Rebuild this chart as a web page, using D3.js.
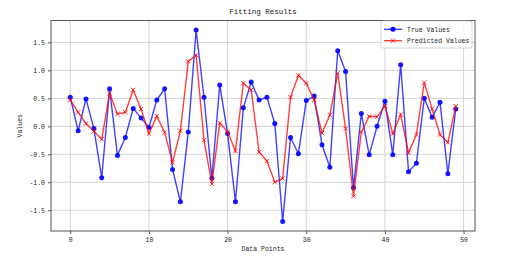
<!DOCTYPE html>
<html lang="en">
  <head>
    <meta charset="UTF-8" />
    <title>Fitting Results</title>
    <script src="https://d3js.org/d3.v7.min.js"></script>
    <style>
      body { margin: 0; background: #fff; }
      text { font-family: "Liberation Mono", "DejaVu Sans Mono", monospace; fill: #222; }
    </style>
  </head>

  <body>
    <svg width="510" height="259"></svg>

    <script>
      // values, index 0..49
      const trueValues = [
        0.52, -0.08, 0.49, -0.04, -0.92, 0.67, -0.52, -0.2, 0.32, 0.15,
        -0.02, 0.47, 0.67, -0.77, -1.35, -0.1, 1.72, 0.52, -0.93, 0.74,
        -0.13, -1.35, 0.33, 0.79, 0.47, 0.52, 0.05, -1.7, -0.2, -0.49,
        0.46, 0.54, -0.33, -0.73, 1.35, 0.98, -1.1, 0.23, -0.51, 0.0,
        0.45, -0.51, 1.1, -0.81, -0.66, 0.5, 0.16, 0.43, -0.85, 0.31
      ];
      const predictedValues = [
        0.47, 0.25, 0.05, -0.09, -0.23, 0.59, 0.22, 0.25, 0.65, 0.31,
        -0.13, 0.18, -0.11, -0.65, -0.08, 1.16, 1.27, -0.25, -1.03, 0.06,
        -0.1, -0.44, 0.77, 0.65, -0.46, -0.62, -1.0, -0.93, 0.52, 0.91,
        0.77, 0.47, -0.12, 0.2, 0.95, -0.04, -1.25, -0.1, 0.18, 0.17,
        0.36, -0.13, 0.21, -0.47, -0.15, 0.78, 0.31, -0.15, -0.29, 0.36
      ];
      const xTicks = [0, 10, 20, 30, 40, 50];
      const yTicks = [-1.5, -1.0, -0.5, 0.0, 0.5, 1.0, 1.5];
      const seriesNames = ["True Values", "Predicted Values"];

      const svg = d3.select("svg");
      const pLeft = 51, pRight = 475, pTop = 20.5, pBottom = 231;

      // matplotlib-style 5% margins
      const n = trueValues.length;
      const xPad = (n - 1) * 0.05;
      const all = trueValues.concat(predictedValues);
      const [lo, hi] = d3.extent(all);
      const yPad = (hi - lo) * 0.05;

      const x = d3.scaleLinear().domain([-xPad, n - 1 + xPad]).range([pLeft, pRight]);
      const y = d3.scaleLinear().domain([lo - yPad, hi + yPad]).range([pBottom, pTop]);

      // grid
      const grid = svg.append("g").attr("stroke", "#d3d3d3").attr("stroke-width", 1);
      grid.selectAll(".gx").data(xTicks).enter().append("line")
        .attr("x1", d => x(d)).attr("x2", d => x(d))
        .attr("y1", pTop).attr("y2", pBottom);
      grid.selectAll(".gy").data(yTicks).enter().append("line")
        .attr("x1", pLeft).attr("x2", pRight)
        .attr("y1", d => y(d)).attr("y2", d => y(d));

      // axes
      const xAxis = d3.axisBottom(x).tickValues(xTicks).tickSize(3).tickPadding(3)
        .tickFormat(d3.format("d"));
      const yAxis = d3.axisLeft(y).tickValues(yTicks).tickSize(3).tickPadding(3)
        .tickFormat(d => d3.format(".1f")(d).replace("−", "-"));

      const gx = svg.append("g").attr("transform", `translate(0,${pBottom})`).call(xAxis);
      const gy = svg.append("g").attr("transform", `translate(${pLeft},0)`).call(yAxis);
      [gx, gy].forEach(g => {
        g.select(".domain").remove();
        g.selectAll("line").attr("stroke", "#555");
        g.selectAll("text").style("font-size", "6.5px").attr("fill", "#333");
      });

      // frame
      svg.append("rect")
        .attr("x", pLeft).attr("y", pTop)
        .attr("width", pRight - pLeft).attr("height", pBottom - pTop)
        .attr("fill", "none").attr("stroke", "#555").attr("stroke-width", 1);

      // lines
      const line = d3.line().x((d, i) => x(i)).y(d => y(d));

      svg.append("path").datum(trueValues)
        .attr("d", line).attr("fill", "none")
        .attr("stroke", "blue").attr("stroke-opacity", 0.75).attr("stroke-width", 1.4);
      svg.append("g").selectAll("circle").data(trueValues).enter().append("circle")
        .attr("cx", (d, i) => x(i)).attr("cy", d => y(d)).attr("r", 2.5)
        .attr("fill", "blue").attr("fill-opacity", 0.9);

      svg.append("path").datum(predictedValues)
        .attr("d", line).attr("fill", "none")
        .attr("stroke", "red").attr("stroke-opacity", 0.75).attr("stroke-width", 1.4);
      const cross = d3.symbol().type(d3.symbolX).size(14);
      svg.append("g").selectAll("path").data(predictedValues).enter().append("path")
        .attr("d", cross)
        .attr("transform", (d, i) => `translate(${x(i)},${y(d)})`)
        .attr("fill", "none").attr("stroke", "red").attr("stroke-width", 0.8);

      // title and labels
      svg.append("text").attr("x", (pLeft + pRight) / 2).attr("y", 14)
        .attr("text-anchor", "middle").style("font-size", "7.5px").text("Fitting Results");
      svg.append("text").attr("x", (pLeft + pRight) / 2).attr("y", 251)
        .attr("text-anchor", "middle").style("font-size", "6.5px").text("Data Points");
      svg.append("text")
        .attr("transform", `translate(22,${(pTop + pBottom) / 2}) rotate(-90)`)
        .attr("text-anchor", "middle").style("font-size", "6.5px").text("Values");

      // legend
      const lg = svg.append("g").attr("transform", "translate(381,21)");
      lg.append("rect").attr("width", 91).attr("height", 27).attr("rx", 2)
        .attr("fill", "white").attr("fill-opacity", 0.8)
        .attr("stroke", "#ccc").attr("stroke-width", 0.8);
      seriesNames.forEach((name, i) => {
        const row = lg.append("g").attr("transform", `translate(0,${8.3 + i * 11.4})`);
        const col = i === 0 ? "blue" : "red";
        row.append("line").attr("x1", 3).attr("x2", 21).attr("y1", 0).attr("y2", 0)
          .attr("stroke", col).attr("stroke-opacity", 0.75).attr("stroke-width", 1.4);
        if (i === 0) {
          row.append("circle").attr("cx", 12).attr("cy", 0).attr("r", 2.5).attr("fill", "blue");
        } else {
          row.append("path").attr("d", cross).attr("transform", "translate(12,0)")
            .attr("fill", "none").attr("stroke", "red").attr("stroke-width", 0.8);
        }
        row.append("text").attr("x", 26).attr("y", 2.3)
          .style("font-size", "6.5px").text(name);
      });
    </script>
  </body>
</html>
